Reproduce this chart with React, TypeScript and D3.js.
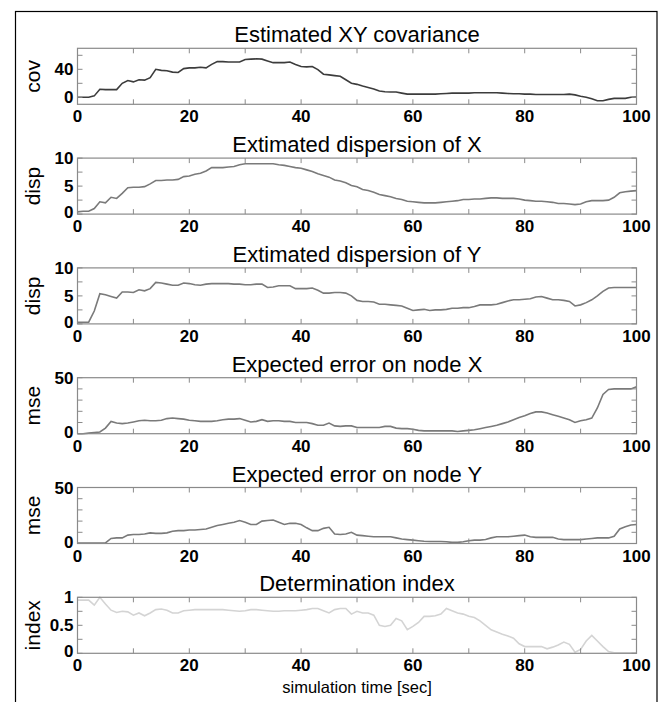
import React from "react";
import * as d3 from "d3";

const time = [
  0, 1, 2, 3, 4, 5, 6, 7, 8, 9, 10, 11, 12, 13, 14, 15, 16, 17, 18, 19, 20,
  21, 22, 23, 24, 25, 26, 27, 28, 29, 30, 31, 32, 33, 34, 35, 36, 37, 38, 39, 40,
  41, 42, 43, 44, 45, 46, 47, 48, 49, 50, 51, 52, 53, 54, 55, 56, 57, 58, 59, 60,
  61, 62, 63, 64, 65, 66, 67, 68, 69, 70, 71, 72, 73, 74, 75, 76, 77, 78, 79, 80,
  81, 82, 83, 84, 85, 86, 87, 88, 89, 90, 91, 92, 93, 94, 95, 96, 97, 98, 99, 100,
];

const covXY = [
  0, 0, 0, 2, 11.5, 11, 11, 11, 20, 24, 22, 25, 24.5, 28, 40, 38.5, 38, 36, 35.5, 41, 42,
  42, 43, 42, 47, 51, 51, 50.5, 50.5, 50.5, 54, 54.5, 55, 54.5, 52, 49.5, 49.5, 49.5, 50.5, 47, 44,
  43.5, 44, 39.5, 33, 32, 31, 30, 25, 20, 18.5, 16, 14, 12, 9, 8, 7.5, 7.5, 6, 4.5, 4.5,
  4.5, 4.5, 4.5, 4.5, 5, 5.5, 6, 6, 6, 6, 6.5, 6.5, 6.5, 6.5, 6.5, 6, 5.5, 5, 5, 4.5,
  4.5, 4, 4, 4, 4, 4, 4, 4.5, 3.5, 1.5, 0, -2, -5, -5, -3, -1.5, -1.5, -1.5, 0, 0.5,
];

const dispX = [
  0.4, 0.5, 0.5, 1.0, 2.2, 2.0, 3.0, 2.8, 3.7, 4.7, 4.8, 4.8, 4.9, 5.4, 6.0, 6.0, 6.1, 6.1, 6.2, 6.7, 6.8,
  7.1, 7.3, 7.7, 8.3, 8.3, 8.3, 8.4, 8.5, 8.8, 9.0, 9.0, 9.0, 9.0, 9.0, 9.0, 8.8, 8.7, 8.5, 8.3, 8.2,
  7.9, 7.6, 7.2, 6.9, 6.6, 6.1, 5.9, 5.6, 5.1, 4.9, 4.4, 4.2, 3.9, 3.5, 3.3, 3.1, 2.8, 2.6, 2.3, 2.2,
  2.1, 2.0, 2.0, 2.0, 2.1, 2.2, 2.3, 2.4, 2.6, 2.6, 2.7, 2.7, 2.8, 2.9, 2.9, 2.8, 2.8, 2.8, 2.7, 2.5,
  2.4, 2.3, 2.3, 2.2, 2.1, 1.9, 1.9, 1.8, 1.7, 1.8, 2.2, 2.4, 2.4, 2.4, 2.5, 3.0, 3.8, 4.0, 4.1, 4.2,
];

const dispY = [
  0.3, 0.3, 0.3, 2.3, 5.4, 5.2, 4.9, 4.6, 5.7, 5.7, 5.6, 6.1, 5.9, 6.3, 7.4, 7.3, 7.1, 6.9, 6.9, 7.3, 7.2,
  7.0, 6.9, 7.1, 7.2, 7.2, 7.2, 7.2, 7.1, 7.1, 7.0, 7.0, 7.1, 7.1, 6.5, 6.6, 6.8, 6.8, 6.8, 6.3, 6.3,
  6.3, 6.4, 6.0, 5.5, 5.5, 5.6, 5.6, 5.5, 5.0, 4.2, 4.0, 4.0, 3.9, 3.5, 3.5, 3.4, 3.3, 3.2, 2.8, 2.4,
  2.5, 2.6, 2.4, 2.5, 2.5, 2.6, 2.8, 2.8, 2.9, 2.9, 3.1, 3.4, 3.4, 3.4, 3.5, 3.8, 4.1, 4.3, 4.3, 4.4,
  4.5, 4.8, 4.9, 4.6, 4.3, 4.3, 4.2, 4.0, 3.2, 3.4, 3.8, 4.3, 5.0, 5.8, 6.4, 6.5, 6.5, 6.5, 6.5, 6.5,
];

const mseX = [
  0, 0, 0.5, 1, 1.5, 5, 11, 9.5, 9, 9.5, 10.5, 11.5, 12, 11.5, 11.5, 12, 13.5, 14, 13.5, 13, 12,
  11.5, 11, 11, 11, 11.5, 12.5, 13, 13, 13.5, 12, 10.5, 11, 12.5, 11, 11.5, 11.5, 11, 11, 10, 10,
  10, 9, 7.5, 7.5, 9.5, 7, 6.5, 7, 7, 5.5, 5.5, 5.5, 5.5, 5.5, 6.5, 6.5, 5, 4.5, 4.5, 4,
  3, 2.5, 2.5, 2.5, 2.5, 2.5, 2.5, 2, 2.5, 3, 3.5, 4.5, 5.5, 6.5, 7.5, 9, 10.5, 12.5, 14.5, 16,
  18, 19.5, 19.5, 18.5, 17, 15.5, 14, 12.5, 10, 11.5, 12.5, 14, 23, 35, 39.5, 40, 40, 40, 40, 42,
];

const mseY = [
  0.5, 0.5, 0.5, 0.5, 0.5, 0.5, 4.5, 5, 5, 7.5, 8, 8, 8.5, 9.5, 9, 9, 9.5, 11, 11.5, 11.5, 12,
  12, 12.5, 13, 14.5, 16, 17, 18, 19, 20.5, 19, 17, 17, 20, 20.5, 21, 19, 17, 18, 18, 17,
  14, 11.5, 11.5, 13.5, 14.5, 8.5, 8, 8.5, 10, 7.5, 7, 6.5, 6, 6, 6, 6, 5, 4, 3.5, 3,
  2.5, 2, 1.8, 1.8, 1.8, 1.5, 1, 1, 1.5, 2.5, 3, 3, 3.5, 5, 6, 6, 6, 6.5, 7, 7.5,
  6, 5.5, 5.5, 5.5, 5.5, 4, 3.5, 3.5, 3.5, 3.5, 4, 4.5, 5, 5, 5, 6.5, 13, 15, 16.5, 17,
];

const detIndex = [
  0.95, 0.95, 0.95, 0.86, 1.0, 0.88, 0.77, 0.73, 0.75, 0.74, 0.68, 0.72, 0.67, 0.72, 0.78, 0.79, 0.77, 0.72, 0.72, 0.76, 0.77,
  0.78, 0.78, 0.78, 0.78, 0.78, 0.78, 0.77, 0.76, 0.75, 0.76, 0.78, 0.78, 0.77, 0.76, 0.75, 0.75, 0.76, 0.76, 0.76, 0.77,
  0.78, 0.8, 0.8, 0.76, 0.72, 0.78, 0.8, 0.8, 0.7, 0.75, 0.72, 0.72, 0.68, 0.5, 0.48, 0.5, 0.62, 0.58, 0.42, 0.48,
  0.55, 0.66, 0.66, 0.67, 0.7, 0.8, 0.76, 0.72, 0.7, 0.66, 0.64, 0.58, 0.5, 0.42, 0.38, 0.34, 0.31, 0.27, 0.17, 0.12,
  0.12, 0.12, 0.12, 0.08, 0.11, 0.15, 0.2, 0.16, 0.02, 0.07, 0.22, 0.32, 0.22, 0.12, 0.03, 0.01, 0.01, 0.01, 0.01, 0.01,
];

const panelTitles = [
  "Estimated XY covariance",
  "Extimated dispersion of X",
  "Extimated dispersion of Y",
  "Expected error on node X",
  "Expected error on node Y",
  "Determination index",
];
const yLabels = ["cov", "disp", "disp", "mse", "mse", "index"];
const yDomains: [number, number][] = [[-10, 70], [0, 10], [0, 10], [0, 50], [0, 50], [0, 1]];
const yTickMarks = [
  [0, 20, 40, 60],
  [0, 2.5, 5, 7.5, 10],
  [0, 2.5, 5, 7.5, 10],
  [0, 10, 20, 30, 40, 50],
  [0, 10, 20, 30, 40, 50],
  [0, 0.25, 0.5, 0.75, 1],
];
const yTickLabels = [
  [0, 40],
  [0, 5, 10],
  [0, 5, 10],
  [0, 50],
  [0, 50],
  [0, 0.5, 1],
];
const series = [covXY, dispX, dispY, mseX, mseY, detIndex];
const lineColors = ["#3c3c3c", "#7a7a7a", "#7a7a7a", "#7a7a7a", "#7a7a7a", "#d4d4d4"];
const xTickMarks = [0, 10, 20, 30, 40, 50, 60, 70, 80, 90, 100];
const xTickLabels = [0, 20, 40, 60, 80, 100];

const W = 665;
const H = 702;
const left = 77.5;
const right = 636.5;
const firstTop = 48.3;
const step = 109.8;
const ph = 56;
const axisColor = "#8a8a8a";
const font = "'Liberation Sans', Arial, sans-serif";

export default function App() {
  const x = d3.scaleLinear().domain([0, 100]).range([left, right]);
  return (
    <svg width={W} height={H} style={{ position: "absolute", left: 0, top: 0, background: "#fff" }}>
      <rect x={15.5} y={11.5} width={641.5} height={720} fill="#fff" stroke="#000" strokeWidth={1.2} />
      {series.map((vals, i) => {
        const top = firstTop + i * step;
        const bottom = top + ph;
        const y = d3.scaleLinear().domain(yDomains[i]).range([bottom, top]);
        const line = d3
          .line<number>()
          .x((_, k) => x(time[k]))
          .y((d) => y(d));
        return (
          <g key={i}>
            <text
              x={(left + right) / 2}
              y={top - 6}
              textAnchor="middle"
              fontFamily={font}
              fontSize={22}
              fill="#000"
            >
              {panelTitles[i]}
            </text>
            <path d={line(vals) || ""} fill="none" stroke={lineColors[i]} strokeWidth={1.6} />
            <rect x={left} y={top} width={right - left} height={ph} fill="none" stroke={axisColor} strokeWidth={1.2} />
            {xTickMarks.map((t) => (
              <g key={"xt" + t} stroke={axisColor} strokeWidth={1}>
                <line x1={x(t)} x2={x(t)} y1={bottom} y2={bottom - 5} />
                <line x1={x(t)} x2={x(t)} y1={top} y2={top + 5} />
              </g>
            ))}
            {yTickMarks[i].map((t) => (
              <g key={"yt" + t} stroke={axisColor} strokeWidth={1}>
                <line x1={left} x2={left + 5} y1={y(t)} y2={y(t)} />
                <line x1={right} x2={right - 5} y1={y(t)} y2={y(t)} />
              </g>
            ))}
            {xTickLabels.map((t) => (
              <text
                key={"xl" + t}
                x={x(t)}
                y={bottom + 18}
                textAnchor="middle"
                fontFamily={font}
                fontWeight="bold"
                fontSize={17}
                fill="#000"
              >
                {t}
              </text>
            ))}
            {yTickLabels[i].map((t) => (
              <text
                key={"yl" + t}
                x={left - 4}
                y={Math.min(y(t), bottom - 2) + 6}
                textAnchor="end"
                fontFamily={font}
                fontWeight="bold"
                fontSize={17}
                fill="#000"
              >
                {String(t)}
              </text>
            ))}
            <text
              transform={`translate(40, ${(top + bottom) / 2}) rotate(-90)`}
              textAnchor="middle"
              fontFamily={font}
              fontSize={21}
              fill="#000"
            >
              {yLabels[i]}
            </text>
          </g>
        );
      })}
      <text x={(left + right) / 2} y={693} textAnchor="middle" fontFamily={font} fontSize={16.5} fill="#000">
        simulation time [sec]
      </text>
    </svg>
  );
}
